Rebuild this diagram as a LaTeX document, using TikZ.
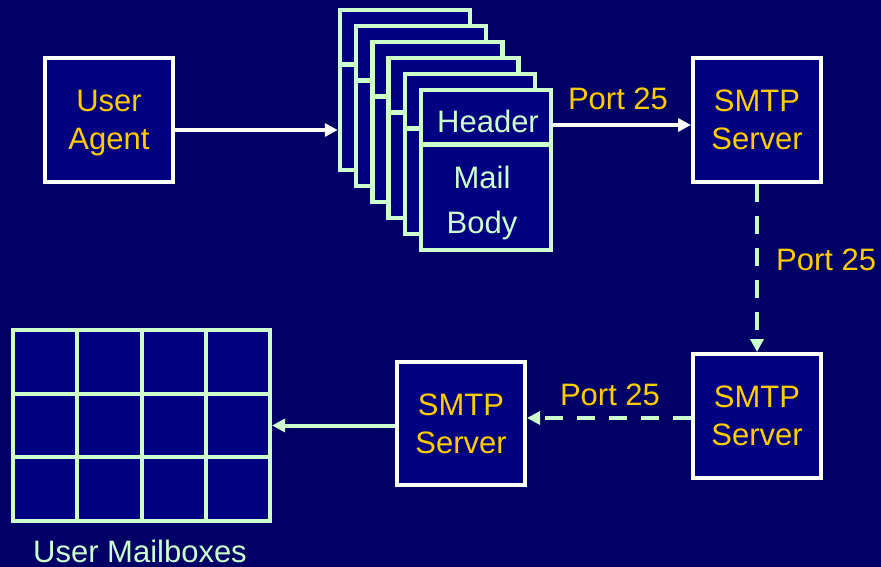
\documentclass[tikz,border=0pt]{standalone}
\usepackage{fontspec}
\setmainfont{Liberation Sans}
\usetikzlibrary{arrows.meta}
\definecolor{bgc}{RGB}{0,0,102}
\definecolor{boxc}{RGB}{0,0,128}
\definecolor{yel}{RGB}{255,204,0}
\definecolor{lgr}{RGB}{204,255,204}
\begin{document}
\begin{tikzpicture}[x=1pt,y=-1pt,
  every node/.style={font=\fontsize{31}{38}\selectfont},
  wbox/.style={draw=white, line width=4pt, fill=boxc, minimum width=128pt,
    minimum height=124pt, inner sep=0pt, text=yel, align=center, text depth=0pt},
  docbox/.style={draw=lgr, line width=4.5pt, fill=boxc, minimum width=130pt,
    minimum height=160pt, inner sep=0pt},
  doctext/.style={text=lgr, inner sep=0pt, anchor=base},
  ptxt/.style={text=yel, inner sep=0pt},
  tip/.style={-{Triangle[length=13pt,width=13pt]}},
  wline/.style={draw=white, line width=4pt, tip},
  gline/.style={draw=lgr, line width=4pt, tip},
  gdash/.style={draw=lgr, line width=4.5pt, dash pattern=on 18pt off 14pt, tip},
  gridline/.style={draw=lgr, line width=4pt}
]
\fill[bgc] (0,0) rectangle (881,567);
\useasboundingbox (0,0) rectangle (881,567);

% boxes
\node[wbox] (ua) at (109,120) {User\\Agent};
\node[wbox] (s1) at (757,120) {SMTP\\Server};
\node[wbox] (s2) at (757,416) {SMTP\\Server};
\node[wbox, minimum height=123pt] (s3) at (461,423.5) {SMTP\\Server};

% stack of mail documents
\foreach \k in {0,...,5} {
  \node[docbox] (d\k) at ({405+16.2*\k},{90+16*\k}) {};
  \draw[lgr, line width=4.5pt] ([yshift=-57pt]d\k.north west) -- ([yshift=-57pt]d\k.north east);
}
\node[doctext] (hdr) at (488,133) {Header};
\node[doctext] (mail) at (482,188) {Mail};
\node[doctext] (bodyt) at (482,233) {Body};

% mailboxes
\node[draw=lgr, line width=4pt, fill=boxc, minimum width=257pt, minimum height=191pt, inner sep=0pt] (mb) at (141.5,425.5) {};
\foreach \i in {1,2,3} \draw[gridline] ({13+64.25*\i},330) -- ({13+64.25*\i},521);
\foreach \j in {1,2} \draw[gridline] (13,{330+63.67*\j}) -- (270,{330+63.67*\j});
\node[text=lgr, inner sep=0pt, anchor=base] (mbl) at (140,562) {User Mailboxes};

% connectors
\coordinate (a0) at ([yshift=-10pt]ua.east);
\draw[wline] (a0) -- (a0 -| d0.west);
\coordinate (a1) at ([yshift=-5pt]s1.west);
\draw[wline] (a1 -| d5.east) -- (a1);
\node[ptxt, anchor=base] (p1) at (618,110) {Port 25};

\draw[gdash] (s1.south) -- (s2.north);
\node[ptxt, anchor=base west] (p2) at (776,270) {Port 25};

\coordinate (a2) at ([yshift=-2pt]s2.west);
\draw[gdash] (a2) -- (a2 -| s3.east);
\node[ptxt, anchor=base] (p3) at (610,405) {Port 25};

\draw[gline] (mb.east -| s3.west) -- (mb.east);
\end{tikzpicture}
\end{document}
